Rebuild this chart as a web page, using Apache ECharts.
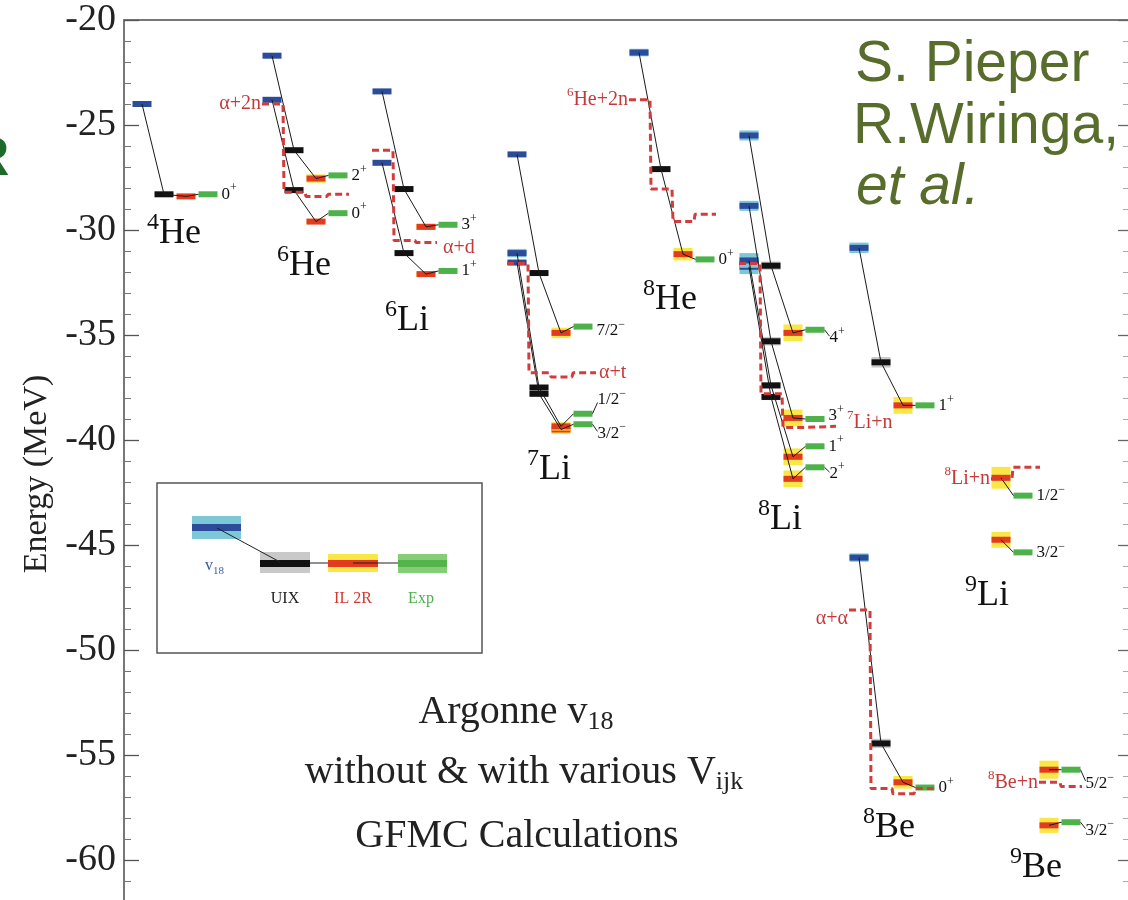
<!DOCTYPE html>
<html><head><meta charset="utf-8">
<script src="https://cdn.jsdelivr.net/npm/echarts@6/dist/echarts.min.js"></script>
<style>html,body{margin:0;padding:0;overflow:hidden;background:#fff}#c{width:1135px;height:965px}</style>
</head><body><div id="c"></div>
<script>
// ---------------- DATA ----------------
const NUCLEI = ['4He','6He','6Li','7Li','8He','8Li','8Be','9Li','9Be'];
const NUCLEUS_X = [142,272,382,517,639,749,859,957,1005];
const MODELS = ['v18','UIX','IL2R','Exp'];

const STATE_NUC = ['4He','6He','6He','6Li','6Li','7Li','7Li','7Li','8He','8Li','8Li','8Li','8Li','8Be','8Be','9Li','9Li','9Be','9Be'];
const STATE_J   = ['0+','0+','2+','1+','3+','3/2-','1/2-','7/2-','0+','2+','1+','3+','4+','0+','1+','3/2-','1/2-','3/2-','5/2-'];
const E_V18  = [-24.0,-23.8,-21.7,-26.8,-23.4,-31.55,-31.1,-26.4,-21.55,-31.75,-31.45,-28.85,-25.5,-45.6,-30.85,null,null,null,null];
const E_UIX  = [-28.3,-28.1,-26.2,-31.1,-28.05,-37.8,-37.5,-32.05,-27.1,-37.95,-37.4,-35.3,-31.7,-54.45,-36.3,null,null,null,null];
const E_IL2R = [-28.4,-29.6,-27.55,-32.1,-29.85,-39.5,-39.35,-34.9,-31.15,-41.85,-40.8,-38.95,-34.9,-56.3,-38.35,-44.75,-41.8,-58.35,-55.7];
const E_EXP  = [-28.3,-29.2,-27.4,-31.95,-29.75,-39.25,-38.75,-34.6,-31.4,-41.3,-40.3,-39.0,-34.75,-56.55,-38.35,-45.35,-42.65,-58.2,-55.7];
const ERR_V18  = [0,0,0,0,0,0.12,0.2,0,0.18,0.35,0.35,0.24,0.24,0.2,0.25,0,0,0,0];
const ERR_UIX  = [0,0,0,0,0,0.12,0.12,0,0,0.15,0.15,0.2,0.2,0.22,0.25,0,0,0,0];
const ERR_IL2R = [0,0.1,0.2,0.1,0.15,0.22,0.2,0.25,0.3,0.4,0.4,0.4,0.4,0.3,0.4,0.38,0.52,0.36,0.43];

const THR_NAME = ['α+2n','α+d','α+t','6He+2n','7Li+n','8Li+n','α+α','8Be+n'];
const THR_NUC  = ['6He','6Li','7Li','8He','8Li','9Li','8Be','9Be'];
const THR_V18  = [-24.0,-26.2,-31.6,-23.8,-31.6,null,-48.1,null];
const THR_UIX  = [-28.2,-30.5,-36.8,-28.05,-37.8,null,-56.6,null];
const THR_IL2R = [-28.4,-30.6,-37.0,-29.6,-39.4,-41.85,-56.85,-56.3];
const THR_EXP  = [-28.3,null,-36.8,-29.25,-39.35,-41.3,-56.6,-56.5];

const Y_TICKS = [-20,-25,-30,-35,-40,-45,-50,-55,-60];

// ---------------- LAYOUT / STYLE ----------------
const COL_OFF = [0,22,44,66];
const BAR_W = 19, BAR_H = 6;
const SERIF = '"Liberation Serif","DejaVu Serif",serif';
const SANS = '"Liberation Sans",Arial,sans-serif';
const COLORS = {
  v18:  {dark:'#2b4b9b', band:'#7cc8d6'},
  UIX:  {dark:'#111111', band:'#c9c9c9'},
  IL2R: {dark:'#e23b1d', band:'#f8e744'},
  Exp:  {dark:'#4db24a', band:'#8fd27f'}
};
const THR_COLOR = '#d23c3c', THR_TEXT = '#c43a3a';
const LABEL_DY = {5:9, 6:-14, 7:4, 9:6, 11:-3, 12:8, 17:8, 18:14};
const LEADER = {5:1, 6:1, 9:1, 12:1, 17:1, 18:1};
const THR_LAYOUT = [
  {side:'left', ext:0, gap:1, dy:0},
  {side:'right', ext:0, gap:6, dy:5},
  {side:'right', ext:2, gap:3, dy:0},
  {side:'left', ext:0, gap:1, dy:0},
  {side:'right', ext:10, gap:11, dy:-4},
  {side:'left', ext:6, gap:1, dy:0},
  {side:'left', ext:0, gap:1, dy:9},
  {side:'left', ext:0, gap:1, dy:0}
];
const NUC_LABEL_POS = {'4He':[147,234],'6He':[277,266],'6Li':[385,321],'7Li':[527,470],'8He':[643,300],'8Li':[758,520],'9Li':[965,596],'8Be':[863,828],'9Be':[1010,868]};

const nucX = n => NUCLEUS_X[NUCLEI.indexOf(n)];
const EN = [E_V18, E_UIX, E_IL2R, E_EXP];
const ERRS = [ERR_V18, ERR_UIX, ERR_IL2R, null];

function splitIso(s){ const m = s.match(/^(\d+)(.*)$/); return m ? [m[1], m[2]] : ['', s]; }
function jRich(j){ return '{m|' + j.slice(0,-1) + '}{s|' + (j.slice(-1)==='-' ? '−' : '+') + '}'; }

const chart = echarts.init(document.getElementById('c'), null, {renderer:'canvas'});
const series = [];

MODELS.forEach((mName, m) => {
  const data = [];
  STATE_NUC.forEach((n, i) => {
    const e = EN[m][i];
    if (e == null) return;
    data.push([nucX(n) + COL_OFF[m], e, ERRS[m] ? ERRS[m][i] : 0, i]);
  });
  const col = COLORS[mName];
  series.push({
    type:'custom', name:mName, data, z: 2, clip:false, silent:true, animation:false,
    renderItem(params, api){
      const x = api.value(0), e = api.value(1), err = api.value(2), idx = api.value(3);
      const p = api.coord([x, e]);
      const ch = [];
      if (err > 0) {
        const h = api.size([0, err])[1];
        ch.push({type:'rect', shape:{x:p[0]-BAR_W/2, y:p[1]-h, width:BAR_W, height:2*h}, style:{fill:col.band}});
      }
      ch.push({type:'rect', shape:{x:p[0]-BAR_W/2, y:p[1]-BAR_H/2, width:BAR_W, height:BAR_H}, style:{fill:col.dark}});
      if (mName === 'Exp') {
        const dy = LABEL_DY[idx] || 0;
        const xr = p[0] + BAR_W/2;
        let lx = xr + 4;
        if (LEADER[idx]) {
          ch.push({type:'line', shape:{x1:xr, y1:p[1], x2:xr+5, y2:p[1]+dy*0.8}, style:{stroke:'#222', lineWidth:1}});
          lx = xr + 5;
        }
        ch.push({type:'text', x:lx, y:p[1]+dy, style:{
          text: jRich(STATE_J[idx]), align:'left', verticalAlign:'middle',
          rich:{ m:{fontFamily:SERIF, fontSize:17, fill:'#111', lineHeight:20},
                 s:{fontFamily:SERIF, fontSize:12, fill:'#111', lineHeight:20, padding:[0,0,12,0]} }
        }});
      }
      return {type:'group', children:ch};
    }
  });
});

series.push({
  type:'custom', name:'links', z:3, clip:false, silent:true, animation:false,
  data: STATE_NUC.map((n,i)=>[nucX(n), EN[2][i], i]),
  renderItem(params, api){
    const i = api.value(2);
    const bx = nucX(STATE_NUC[i]);
    const pts = [];
    for (let c = 0; c < 4; c++) {
      const e = EN[c][i];
      if (e == null) continue;
      let x = bx + COL_OFF[c];
      if (c === 3) x -= BAR_W/2;
      pts.push(api.coord([x, e]));
    }
    return {type:'polyline', shape:{points:pts}, style:{stroke:'#1a1a1a', lineWidth:1, fill:null}};
  }
});

const THR_ARR = [THR_V18, THR_UIX, THR_IL2R, THR_EXP];
const thrEnds = [];
THR_NAME.forEach((name, k) => {
  const bx = nucX(THR_NUC[k]);
  const pts = [];
  for (let c = 0; c < 4; c++) {
    const e = THR_ARR[c][k];
    if (e == null) continue;
    const cx = bx + COL_OFF[c];
    pts.push([cx - 10, e], [cx + 11, e]);
  }
  pts[pts.length-1] = [pts[pts.length-1][0] + THR_LAYOUT[k].ext, pts[pts.length-1][1]];
  thrEnds.push(THR_LAYOUT[k].side === 'left' ? pts[0] : pts[pts.length-1]);
  series.push({type:'line', data:pts, symbol:'none', z:4, silent:true, animation:false,
    lineStyle:{color:THR_COLOR, width:3, type:[7,4]}});
});
series.push({
  type:'custom', name:'thrLabels', z:5, clip:false, silent:true, animation:false,
  data: thrEnds.map((p,k)=>[p[0], p[1], k]),
  renderItem(params, api){
    const k = api.value(2);
    const p = api.coord([api.value(0), api.value(1)]);
    const L = THR_LAYOUT[k];
    const [iso, rest] = splitIso(THR_NAME[k]);
    const txt = (iso ? '{s|' + iso + '}' : '') + '{m|' + rest + '}';
    return {type:'text', x: p[0] + (L.side==='left' ? -L.gap : L.gap), y: p[1] + L.dy, style:{
      text: txt, align: L.side==='left' ? 'right' : 'left', verticalAlign:'middle',
      rich:{ m:{fontFamily:SERIF, fontSize:20, fill:THR_TEXT, lineHeight:24},
             s:{fontFamily:SERIF, fontSize:13, fill:THR_TEXT, lineHeight:24, padding:[0,0,14,0]} }
    }};
  }
});

// ---------------- GRAPHICS (annotations) ----------------
const graphics = [];
NUCLEI.forEach(n => {
  const [iso, el] = splitIso(n);
  const pos = NUC_LABEL_POS[n];
  graphics.push({type:'text', x:pos[0], y:pos[1], z:10, style:{
    text:'{s|'+iso+'}{m|'+el+'}', align:'left', verticalAlign:'middle',
    rich:{ m:{fontFamily:SERIF, fontSize:36, fill:'#111', lineHeight:40},
           s:{fontFamily:SERIF, fontSize:24, fill:'#111', lineHeight:40, padding:[0,0,22,0]} }
  }});
});
graphics.push({type:'text', x:37, y:474, rotation:Math.PI/2, z:10, style:{
  text:'Energy (MeV)', fontFamily:SERIF, fontSize:34, fill:'#222', align:'center', verticalAlign:'middle'}});
const olive = '#586c2c';
graphics.push({type:'text', x:855, y:65, z:10, style:{text:'S. Pieper', fontFamily:SANS, fontSize:57, fill:olive, align:'left', verticalAlign:'middle'}});
graphics.push({type:'text', x:853, y:127, z:10, style:{text:'R.Wiringa,', fontFamily:SANS, fontSize:57, fill:olive, align:'left', verticalAlign:'middle'}});
graphics.push({type:'text', x:856, y:188, z:10, style:{text:'et al.', fontFamily:SANS, fontSize:57, fontStyle:'italic', fill:olive, align:'left', verticalAlign:'middle'}});
graphics.push({type:'text', x:-31, y:160, z:10, style:{text:'R', fontFamily:SANS, fontSize:56, fontWeight:'bold', fill:'#1d6a2a', align:'left', verticalAlign:'middle'}});
const capRich = { m:{fontFamily:SERIF, fontSize:40, fill:'#222', lineHeight:48},
                  b:{fontFamily:SERIF, fontSize:26, fill:'#222', lineHeight:48, padding:[20,0,0,0]} };
graphics.push({type:'text', x:516, y:712, z:10, style:{text:'{m|Argonne v}{b|18}', rich:capRich, align:'center', verticalAlign:'middle'}});
graphics.push({type:'text', x:524, y:772, z:10, style:{text:'{m|without & with various V}{b|ijk}', rich:capRich, align:'center', verticalAlign:'middle'}});
graphics.push({type:'text', x:517, y:836, z:10, style:{text:'{m|GFMC Calculations}', rich:capRich, align:'center', verticalAlign:'middle'}});
graphics.push({type:'rect', z:10, shape:{x:157, y:483, width:325, height:170}, style:{fill:null, stroke:'#555', lineWidth:1.5}});
graphics.push({type:'line', z:11, shape:{x1:310, y1:563, x2:398, y2:563}, style:{stroke:'#222', lineWidth:1}});
const legItems = [
  {x:192, w:49, by:516, bh:23, dy:524, c:COLORS.v18},
  {x:260, w:50, by:552, bh:21, dy:560, c:COLORS.UIX},
  {x:328, w:50, by:554, bh:18, dy:560, c:COLORS.IL2R},
  {x:398, w:49, by:554, bh:19, dy:560, c:{band:'#86cd78', dark:'#55b34c'}}
];
legItems.forEach(it => {
  graphics.push({type:'rect', z:12, shape:{x:it.x, y:it.by, width:it.w, height:it.bh}, style:{fill:it.c.band}});
  graphics.push({type:'rect', z:12, shape:{x:it.x, y:it.dy, width:it.w, height:7}, style:{fill:it.c.dark}});
});
graphics.push({type:'line', z:13, shape:{x1:217, y1:528, x2:280, y2:562}, style:{stroke:'#222', lineWidth:1}});
graphics.push({type:'line', z:13, shape:{x1:353, y1:563, x2:378, y2:563}, style:{stroke:'#222', lineWidth:1}});
graphics.push({type:'text', x:205, y:566, z:13, style:{text:'{m|v}{b|18}', align:'left', verticalAlign:'middle',
  rich:{m:{fontFamily:SERIF, fontSize:16, fill:'#3b5aa3', lineHeight:20}, b:{fontFamily:SERIF, fontSize:11, fill:'#3b5aa3', lineHeight:20, padding:[10,0,0,0]}}}});
graphics.push({type:'text', x:285, y:599, z:13, style:{text:'UIX', fontFamily:SERIF, fontSize:16, fill:'#222', align:'center', verticalAlign:'middle'}});
graphics.push({type:'text', x:353, y:599, z:13, style:{text:'IL 2R', fontFamily:SERIF, fontSize:16, fill:'#d03a30', align:'center', verticalAlign:'middle'}});
graphics.push({type:'text', x:421, y:599, z:13, style:{text:'Exp', fontFamily:SERIF, fontSize:16, fill:'#4cae4c', align:'center', verticalAlign:'middle'}});

// ---------------- OPTION ----------------
const axisCommon = {
  type:'value', min:-65, max:-20, interval:5,
  splitLine:{show:false},
  axisLine:{show:true, onZero:false, lineStyle:{color:'#555', width:1.6}},
  minorTick:{show:true, splitNumber:5},
};
chart.setOption({
  animation:false,
  backgroundColor:'#fff',
  grid:{left:124, right:0, top:20, bottom:0, containLabel:false},
  xAxis:{type:'value', min:124, max:1135, position:'top',
    axisLine:{show:true, onZero:false, lineStyle:{color:'#777', width:2}},
    axisTick:{show:false}, axisLabel:{show:false}, splitLine:{show:false}},
  yAxis:[
    Object.assign({}, axisCommon, {position:'left',
      axisTick:{show:true, inside:true, length:15, lineStyle:{color:'#555', width:1.3}},
      minorTick:{show:true, splitNumber:5, length:7, lineStyle:{color:'#777', width:1}},
      axisLabel:{show:true, margin:8, fontFamily:SERIF, fontSize:38, color:'#222',
        customValues: Y_TICKS, formatter: v => String(v)}}),
    Object.assign({}, axisCommon, {position:'right',
      axisTick:{show:true, inside:true, length:17, lineStyle:{color:'#666', width:1.3}},
      minorTick:{show:true, splitNumber:5, length:12, lineStyle:{color:'#aaa', width:1}},
      axisLabel:{show:false}})
  ],
  graphic: graphics,
  series: series
});
</script></body></html>
